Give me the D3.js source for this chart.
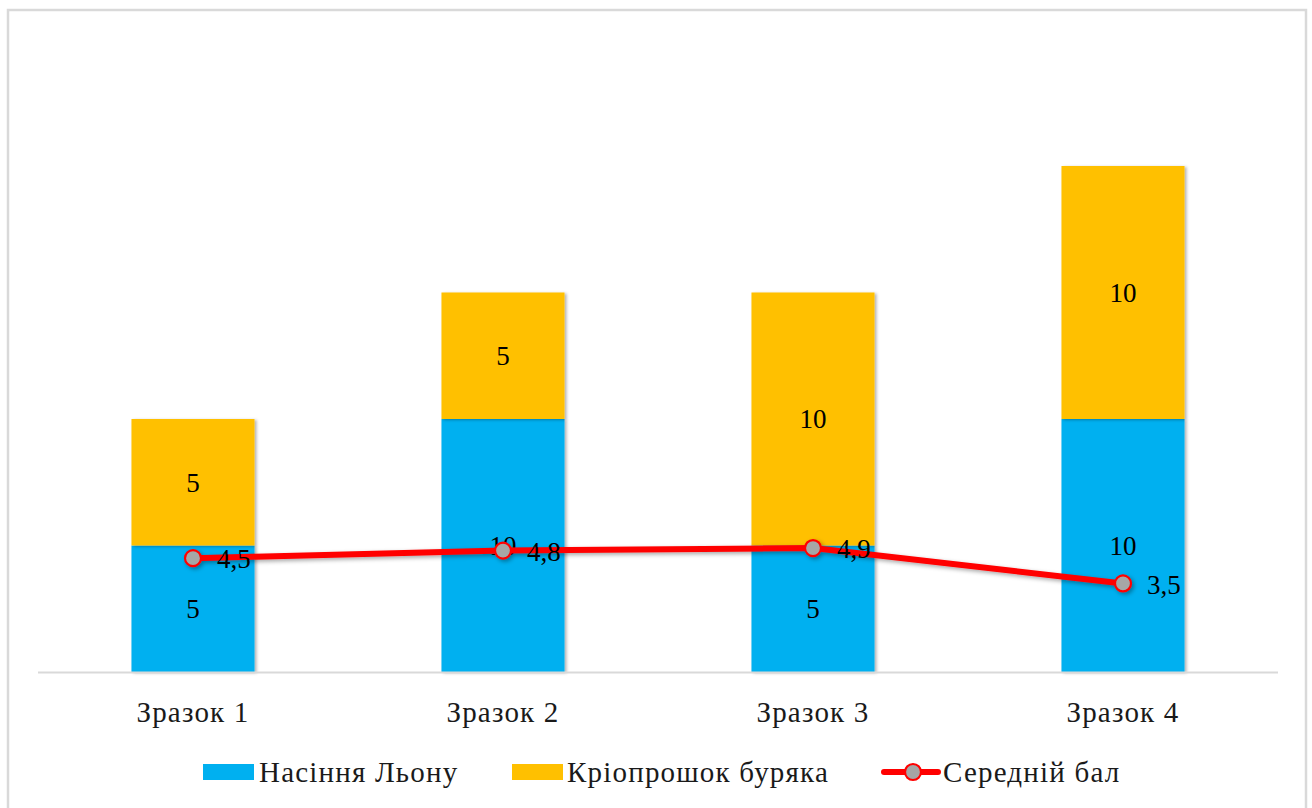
<!DOCTYPE html>
<html>
<head>
<meta charset="utf-8">
<script src="https://cdn.jsdelivr.net/npm/d3@7"></script>
<style>
  html, body { margin: 0; padding: 0; background: #fff; }
  svg { display: block; }
  text { font-family: "Liberation Serif", "Times New Roman", serif; }
</style>
</head>
<body>
<svg id="chart" width="1312" height="808"></svg>
<script>
// Samples and their components
const categories = ["Зразок 1", "Зразок 2", "Зразок 3", "Зразок 4"];
const flaxSeed = [5, 10, 5, 10];      // Насіння Льону
const beetPowder = [5, 5, 10, 10];    // Кріопрошок буряка
const avgScore = [4.5, 4.8, 4.9, 3.5]; // Середній бал
const seriesNames = ["Насіння Льону", "Кріопрошок буряка", "Середній бал"];
const yMax = 25;

const colors = { flax: "#00B0F0", beet: "#FFC000", line: "#FF0000", marker: "#A6A6A6", grid: "#D9D9D9" };

const svg = d3.select("#chart");

// Drop shadow filters
const defs = svg.append("defs");
const sh = defs.append("filter").attr("id", "barShadow").attr("x", "-10%").attr("y", "-10%").attr("width", "130%").attr("height", "130%");
sh.append("feDropShadow").attr("dx", 2).attr("dy", 1).attr("stdDeviation", 1.5).attr("flood-color", "#000").attr("flood-opacity", 0.3);
const lsh = defs.append("filter").attr("id", "lineShadow").attr("x", "-10%").attr("y", "-50%").attr("width", "130%").attr("height", "250%");
lsh.append("feDropShadow").attr("dx", 2).attr("dy", 2).attr("stdDeviation", 2).attr("flood-color", "#000").attr("flood-opacity", 0.35);

// Chart border
svg.append("rect")
  .attr("x", 8).attr("y", 10).attr("width", 1298).attr("height", 820)
  .attr("fill", "#fff").attr("stroke", colors.grid).attr("stroke-width", 2.5);

const plot = { left: 38, right: 1278, top: 39.5, bottom: 672 };

const x = d3.scaleBand().domain(categories).range([plot.left, plot.right]).padding(0);
const y = d3.scaleLinear().domain([0, yMax]).range([plot.bottom, plot.top]);
const barW = x.bandwidth() * 0.397;
const cx = c => x(c) + x.bandwidth() / 2;

const fmt = v => String(v).replace(".", ",");
const labelSize = 27, axisSize = 29, axisSpacing = 1.2;

// Stacked bars
const rows = categories.map((c, i) => ({ cat: c, flax: flaxSeed[i], beet: beetPowder[i] }));
const stack = d3.stack().keys(["flax", "beet"])(rows);

const barG = svg.append("g");
stack.forEach(layer => {
  barG.selectAll(null).data(layer).enter().append("rect")
    .attr("x", d => cx(d.data.cat) - barW / 2)
    .attr("y", d => y(d[1]))
    .attr("width", barW)
    .attr("height", d => y(d[0]) - y(d[1]))
    .attr("fill", colors[layer.key])
    .attr("filter", "url(#barShadow)");
});

// X axis line
svg.append("line")
  .attr("x1", plot.left).attr("x2", plot.right)
  .attr("y1", plot.bottom + 0.5).attr("y2", plot.bottom + 0.5)
  .attr("stroke", colors.grid).attr("stroke-width", 2);

// Category labels
svg.append("g").selectAll("text").data(categories).enter().append("text")
  .attr("x", d => cx(d)).attr("y", 722)
  .attr("text-anchor", "middle").attr("font-size", axisSize)
  .attr("letter-spacing", axisSpacing).attr("fill", "#1a1a1a")
  .text(d => d);

// Bar value labels
stack.forEach(layer => {
  svg.append("g").selectAll("text").data(layer).enter().append("text")
    .attr("x", d => cx(d.data.cat))
    .attr("y", d => (y(d[0]) + y(d[1])) / 2)
    .attr("dy", "0.35em")
    .attr("text-anchor", "middle").attr("font-size", labelSize).attr("fill", "#000")
    .text(d => d[1] - d[0]);
});

// Average score line
const lineData = categories.map((c, i) => ({ cat: c, v: avgScore[i] }));
const line = d3.line().x(d => cx(d.cat)).y(d => y(d.v));
const lineG = svg.append("g").attr("filter", "url(#lineShadow)");
lineG.append("path").datum(lineData)
  .attr("d", line).attr("fill", "none")
  .attr("stroke", colors.line).attr("stroke-width", 6)
  .attr("stroke-linejoin", "round").attr("stroke-linecap", "round");
lineG.selectAll("circle").data(lineData).enter().append("circle")
  .attr("cx", d => cx(d.cat)).attr("cy", d => y(d.v)).attr("r", 8)
  .attr("fill", colors.marker).attr("stroke", colors.line).attr("stroke-width", 2.2);

svg.append("g").selectAll("text").data(lineData).enter().append("text")
  .attr("x", d => cx(d.cat) + 24).attr("y", d => y(d.v))
  .attr("dy", "0.38em").attr("font-size", labelSize).attr("fill", "#000")
  .text(d => fmt(d.v));

// Legend
const leg = svg.append("g");
const legY = 772;
const items = [
  { type: "rect", color: colors.flax, x0: 203, tx: 259, name: seriesNames[0] },
  { type: "rect", color: colors.beet, x0: 512, tx: 567, name: seriesNames[1] },
  { type: "line", color: colors.line, x0: 884, tx: 943, name: seriesNames[2] }
];
items.forEach(it => {
  if (it.type === "rect") {
    leg.append("rect").attr("x", it.x0).attr("y", legY - 8).attr("width", 51).attr("height", 16).attr("fill", it.color);
  } else {
    leg.append("line").attr("x1", it.x0).attr("x2", it.x0 + 54).attr("y1", legY).attr("y2", legY)
      .attr("stroke", it.color).attr("stroke-width", 6).attr("stroke-linecap", "round");
    leg.append("circle").attr("cx", it.x0 + 29).attr("cy", legY).attr("r", 8)
      .attr("fill", colors.marker).attr("stroke", colors.line).attr("stroke-width", 2.2);
  }
  leg.append("text").attr("x", it.tx).attr("y", legY).attr("dy", "0.36em")
    .attr("font-size", axisSize).attr("letter-spacing", axisSpacing)
    .attr("fill", "#1a1a1a").text(it.name);
});
</script>
</body>
</html>
